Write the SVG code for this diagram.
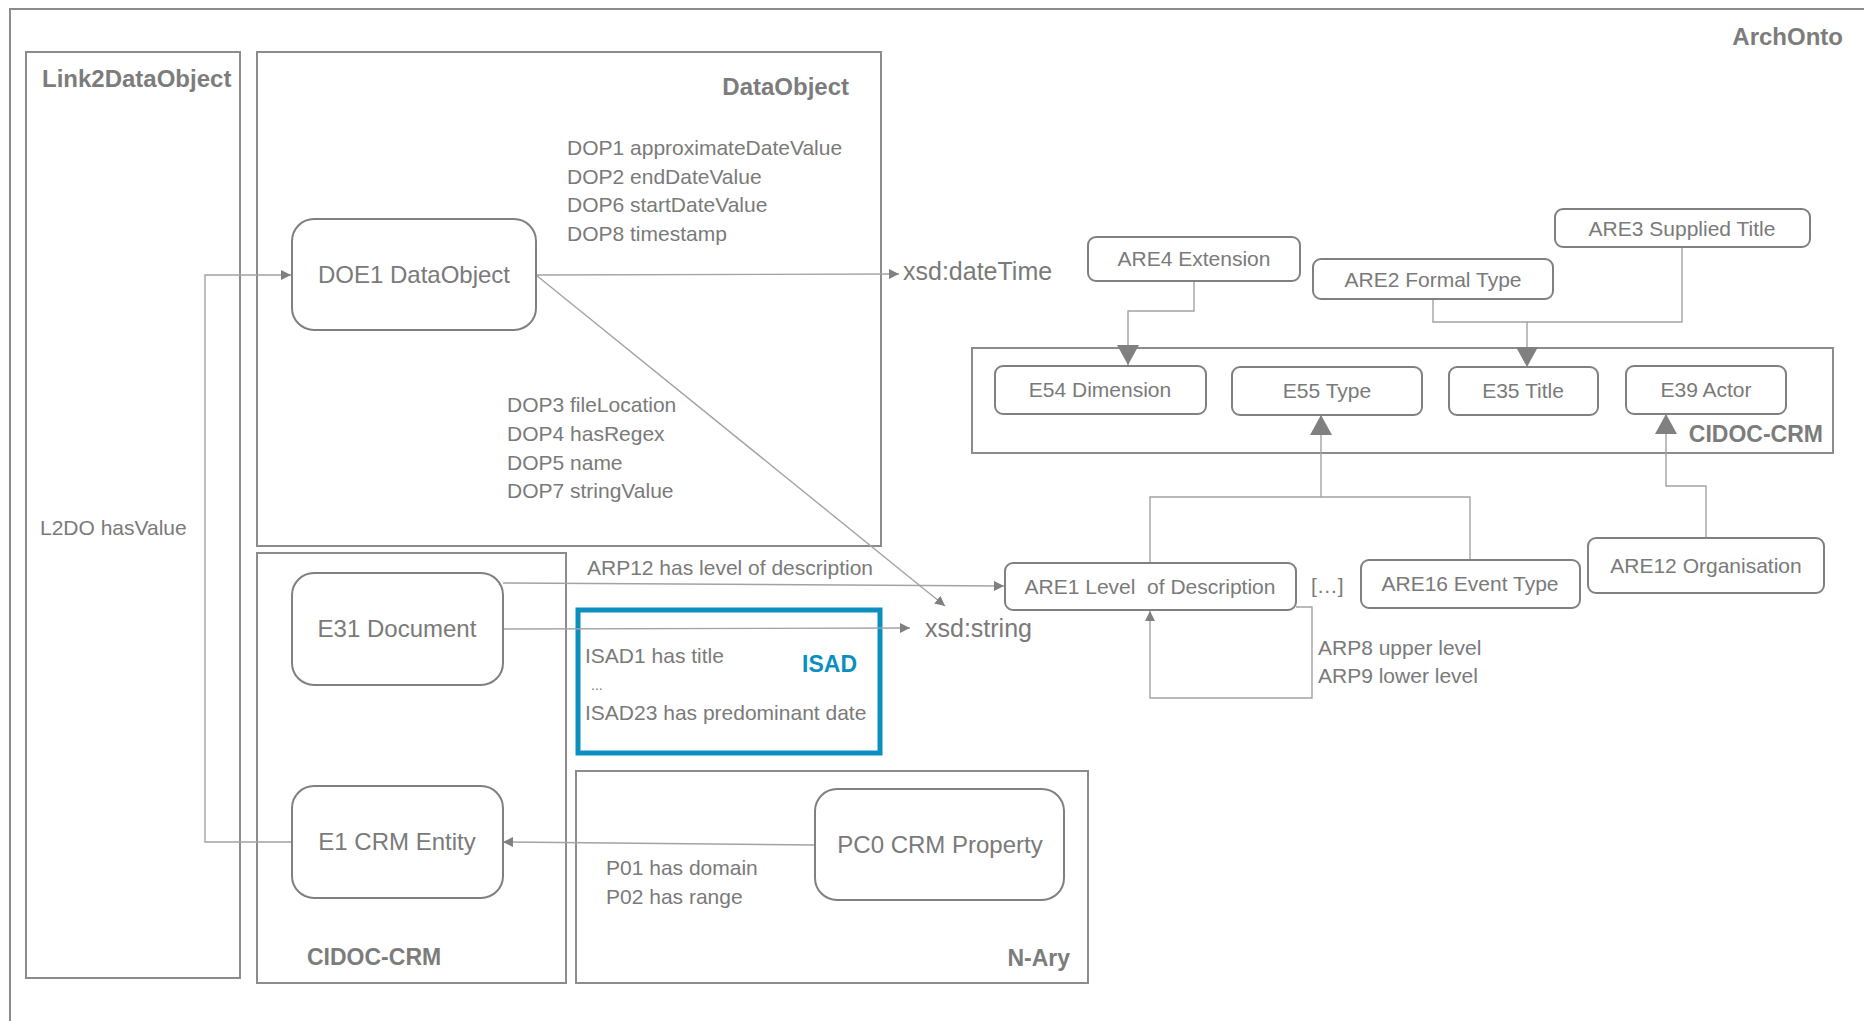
<svg xmlns="http://www.w3.org/2000/svg" width="1864" height="1021" viewBox="0 0 1864 1021">
<style>
text{font-family:"Liberation Sans",Arial,sans-serif;fill:#7a7a7a}
.lbl{font-size:21px}
.big{font-size:24px;text-anchor:middle}
.sm{font-size:21px;text-anchor:middle}
.title{font-size:24px;font-weight:bold;fill:#7c7c7c}
.cont{fill:none;stroke:#8c8c8c;stroke-width:2}
.node{fill:#fff;stroke:#808080;stroke-width:2}
.con{fill:none;stroke:#a3a3a3;stroke-width:1.4}
</style>
<defs>
<marker id="sa" viewBox="0 0 10 10" markerWidth="10" markerHeight="10" refX="10" refY="5" orient="auto" markerUnits="userSpaceOnUse"><path d="M0,0 L10,5 L0,10 z" fill="#808080"/></marker>
<marker id="ba" viewBox="0 0 20 22" markerWidth="20" markerHeight="22" refX="20" refY="11" orient="auto" markerUnits="userSpaceOnUse"><path d="M0,0 L20,11 L0,22 z" fill="#808080"/></marker>
</defs>
<rect width="1864" height="1021" fill="#fff"/>
<g id="containers">
<rect id="archonto" x="10" y="9" width="1880" height="1030" class="cont"/>
<text class="title" x="1843" y="45" text-anchor="end">ArchOnto</text>
<g id="link2dataobject"><rect x="26" y="52" width="214" height="926" class="cont"/><text class="title" x="42" y="87">Link2DataObject</text></g>
<g id="dataobject-box"><rect x="257" y="52" width="624" height="494" class="cont"/><text class="title" x="849" y="95" text-anchor="end">DataObject</text></g>
<g id="cidoc-left"><rect x="257" y="553" width="309" height="430" class="cont"/><text class="title" x="307" y="965" style="font-size:23px">CIDOC-CRM</text></g>
<g id="nary"><rect x="576" y="771" width="512" height="212" class="cont"/><text class="title" x="1070" y="966" text-anchor="end" style="font-size:23px">N-Ary</text></g>
<g id="cidoc-right"><rect x="972" y="348" width="861" height="105" class="cont"/><text class="title" x="1823" y="442" text-anchor="end" style="font-size:23px">CIDOC-CRM</text></g>
<g id="isad"><rect x="578" y="610" width="302" height="143" fill="none" stroke="#0b8fc1" stroke-width="5"/><text x="857" y="672" text-anchor="end" style="font-size:23px;font-weight:bold;fill:#0b8fc1">ISAD</text>
<text class="lbl" x="585" y="663">ISAD1 has title</text><text class="lbl" x="591" y="690" style="font-size:14px">...</text><text class="lbl" x="585" y="720">ISAD23 has predominant date</text></g>
</g>
<g id="connectors">
<path class="con" d="M291,842 H205 V275 H291" marker-end="url(#sa)"/>
<path class="con" d="M536,275 L899,274" marker-end="url(#sa)"/>
<path class="con" d="M536,275 L945,606" marker-end="url(#sa)"/>
<path class="con" d="M503,583 L1004,586" marker-end="url(#sa)"/>
<path class="con" d="M503,629 L910,628" marker-end="url(#sa)"/>
<path class="con" d="M815,845 L503,842" marker-end="url(#sa)"/>
<path class="con" d="M1194,281 V311 H1128 V365" marker-end="url(#ba)"/>
<path class="con" d="M1433,300 V322 H1527 V367" marker-end="url(#ba)"/>
<path class="con" d="M1682,247 V322 H1527"/>
<path class="con" d="M1150,562 V497 H1321 V415" marker-end="url(#ba)"/>
<path class="con" d="M1470,560 V497 H1321"/>
<path class="con" d="M1706,538 V486 H1666 V414" marker-end="url(#ba)"/>
<path class="con" d="M1296,607 H1312 V698 H1150 V611" marker-end="url(#sa)"/>
<text class="lbl" x="567" y="155">DOP1 approximateDateValue</text>
<text class="lbl" x="567" y="183.5">DOP2 endDateValue</text>
<text class="lbl" x="567" y="212">DOP6 startDateValue</text>
<text class="lbl" x="567" y="240.5">DOP8 timestamp</text>
<text class="lbl" x="507" y="412">DOP3 fileLocation</text>
<text class="lbl" x="507" y="441">DOP4 hasRegex</text>
<text class="lbl" x="507" y="469.5">DOP5 name</text>
<text class="lbl" x="507" y="498">DOP7 stringValue</text>
<text class="lbl" x="40" y="535">L2DO hasValue</text>
<text class="lbl" x="587" y="575">ARP12 has level of description</text>
<text class="lbl" x="606" y="875">P01 has domain</text>
<text class="lbl" x="606" y="904">P02 has range</text>
<text class="lbl" x="1318" y="655">ARP8 upper level</text>
<text class="lbl" x="1318" y="683">ARP9 lower level</text>
<text class="lbl" x="1311" y="593">[…]</text>
<text x="903" y="280" style="font-size:25px">xsd:dateTime</text>
<text x="925" y="637" style="font-size:25px">xsd:string</text>
</g>
<g id="DOE1"><rect class="node" x="292" y="219" width="244" height="111" rx="22"/><text class="big" x="414" y="283">DOE1 DataObject</text></g>
<g id="E31"><rect class="node" x="292" y="573" width="211" height="112" rx="22"/><text class="big" x="397" y="637">E31 Document</text></g>
<g id="E1"><rect class="node" x="292" y="786" width="211" height="112" rx="22"/><text class="big" x="397" y="850">E1 CRM Entity</text></g>
<g id="PC0"><rect class="node" x="815" y="789" width="249" height="111" rx="22"/><text class="big" x="940" y="853">PC0 CRM Property</text></g>
<g id="ARE4"><rect class="node" x="1088" y="237" width="212" height="44" rx="8"/><text class="sm" x="1194" y="266">ARE4 Extension</text></g>
<g id="ARE2"><rect class="node" x="1313" y="259" width="240" height="40" rx="8"/><text class="sm" x="1433" y="287">ARE2 Formal Type</text></g>
<g id="ARE3"><rect class="node" x="1555" y="209" width="255" height="38" rx="8"/><text class="sm" x="1682" y="236">ARE3 Supplied Title</text></g>
<g id="E54"><rect class="node" x="995" y="366" width="211" height="48" rx="8"/><text class="sm" x="1100" y="397">E54 Dimension</text></g>
<g id="E55"><rect class="node" x="1232" y="367" width="190" height="48" rx="8"/><text class="sm" x="1327" y="398">E55 Type</text></g>
<g id="E35"><rect class="node" x="1449" y="367" width="149" height="48" rx="8"/><text class="sm" x="1523" y="398">E35 Title</text></g>
<g id="E39"><rect class="node" x="1626" y="366" width="160" height="48" rx="8"/><text class="sm" x="1706" y="397">E39 Actor</text></g>
<g id="ARE1"><rect class="node" x="1005" y="563" width="291" height="47" rx="8"/><text class="sm" x="1150" y="594" xml:space="preserve">ARE1 Level  of Description</text></g>
<g id="ARE16"><rect class="node" x="1361" y="560" width="219" height="48" rx="8"/><text class="sm" x="1470" y="591">ARE16 Event Type</text></g>
<g id="ARE12"><rect class="node" x="1588" y="538" width="236" height="55" rx="8"/><text class="sm" x="1706" y="573">ARE12 Organisation</text></g>
</svg>
